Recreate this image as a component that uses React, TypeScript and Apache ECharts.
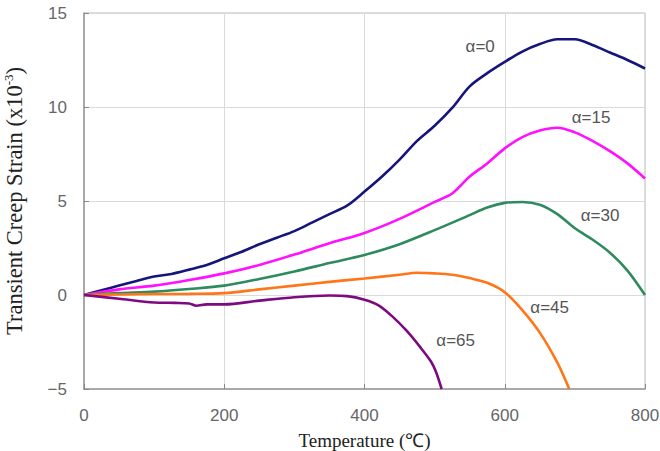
import React, { useEffect, useRef } from "react";
import * as echarts from "echarts";

// Temperature (°C) / transient creep strain (x10^-3) pairs for each load ratio α
const alpha0: [number, number][] = [
  [0, 0], [25, 0.25], [50, 0.5], [75, 0.75], [100, 0.98], [125, 1.12], [150, 1.35],
  [175, 1.6], [200, 1.95], [225, 2.3], [250, 2.7], [275, 3.05], [300, 3.4], [325, 3.85],
  [350, 4.3], [375, 4.75], [400, 5.5], [425, 6.3], [450, 7.2], [475, 8.2], [500, 9.0],
  [525, 9.95], [550, 11.1], [575, 11.8], [600, 12.4], [625, 12.95], [650, 13.35],
  [675, 13.6], [700, 13.6], [725, 13.3], [750, 12.9], [775, 12.5], [800, 12.05],
];
const alpha15: [number, number][] = [
  [0, 0], [50, 0.3], [100, 0.5], [150, 0.8], [200, 1.15], [250, 1.6], [300, 2.15],
  [350, 2.75], [400, 3.3], [450, 4.05], [500, 4.95], [525, 5.4], [550, 6.3], [575, 7.0],
  [600, 7.8], [625, 8.4], [650, 8.75], [675, 8.9], [700, 8.65], [725, 8.2], [750, 7.65],
  [775, 7.0], [800, 6.2],
];
const alpha30: [number, number][] = [
  [0, 0], [50, 0.1], [100, 0.18], [150, 0.32], [200, 0.5], [250, 0.85], [300, 1.25],
  [350, 1.7], [400, 2.13], [450, 2.7], [500, 3.45], [550, 4.25], [575, 4.65], [600, 4.9],
  [625, 4.95], [650, 4.8], [675, 4.3], [700, 3.55], [725, 2.95], [750, 2.25], [775, 1.3],
  [800, 0],
];
const alpha45: [number, number][] = [
  [0, 0], [50, 0.03], [100, 0.05], [150, 0.06], [200, 0.1], [250, 0.3], [300, 0.5],
  [350, 0.7], [400, 0.88], [450, 1.08], [475, 1.18], [500, 1.15], [525, 1.08], [550, 0.9],
  [575, 0.65], [600, 0.15], [625, -0.8], [650, -2.0], [675, -3.6], [692, -5.0],
];
const alpha65: [number, number][] = [
  [0, 0], [50, -0.2], [100, -0.4], [130, -0.42], [150, -0.45], [160, -0.57], [175, -0.5],
  [200, -0.5], [250, -0.3], [300, -0.12], [350, -0.03], [375, -0.06], [400, -0.25],
  [420, -0.55], [440, -1.15], [460, -1.9], [480, -2.8], [495, -3.55], [502, -4.1],
  [510, -5.0],
];

const seriesNames = ["α=0", "α=15", "α=30", "α=45", "α=65"];
const seriesData = [alpha0, alpha15, alpha30, alpha45, alpha65];
// Where each curve's α label sits, in (temperature, strain) units
const labelAnchors: [number, number][] = [
  [565, 13.2], [723, 9.45], [736, 4.25], [664, -0.64], [530, -2.4],
];
const colors = ["#15157c", "#ff10ff", "#2e8b5f", "#ff7518", "#7d0a80"];

const xTicks = { min: 0, max: 800, interval: 200 };
const yTicks = { min: -5, max: 15, interval: 5 };

export default function App() {
  const ref = useRef<HTMLDivElement>(null);

  useEffect(() => {
    if (!ref.current) return;
    const chart = echarts.init(ref.current, undefined, { renderer: "svg" });

    const series = seriesData.map((data, i) => ({
      name: seriesNames[i],
      type: "line",
      data,
      showSymbol: false,
      smooth: 0.3,
      clip: true,
      lineStyle: { color: colors[i], width: 2.6 },
      itemStyle: { color: colors[i] },
      markPoint: {
        symbol: "circle",
        symbolSize: 0,
        silent: true,
        label: {
          show: true,
          position: "inside",
          formatter: seriesNames[i],
          color: "#555",
          fontFamily: "Liberation Sans, Arial, sans-serif",
          fontSize: 17,
        },
        data: [{ coord: labelAnchors[i], value: seriesNames[i] }],
      },
    }));

    chart.setOption({
      animation: false,
      backgroundColor: "#ffffff",
      grid: {
        left: 84,
        right: 15,
        top: 13,
        bottom: 62,
        containLabel: false,
        outerBoundsMode: "none",
        show: true,
        borderColor: "#b8b8b8",
        borderWidth: 1,
      },
      xAxis: {
        type: "value",
        ...xTicks,
        name: "Temperature (℃)",
        nameLocation: "middle",
        nameGap: 42,
        nameTextStyle: {
          fontFamily: "Liberation Serif, Times New Roman, serif",
          fontSize: 19,
          color: "#222",
        },
        axisLine: { onZero: false, lineStyle: { color: "#999", width: 1.5 } },
        axisTick: { show: true, inside: true, length: 5, lineStyle: { color: "#888" } },
        axisLabel: {
          margin: 18,
          color: "#666",
          fontFamily: "Liberation Sans, Arial, sans-serif",
          fontSize: 17,
        },
        splitLine: { show: true, lineStyle: { color: "#dadada", width: 1 } },
      },
      yAxis: {
        type: "value",
        ...yTicks,
        name: "Transient Creep Strain (x10{sup|-3})",
        nameLocation: "middle",
        nameGap: 58,
        nameRotate: 90,
        nameTextStyle: {
          fontFamily: "Liberation Serif, Times New Roman, serif",
          fontSize: 22.5,
          color: "#222",
          rich: {
            sup: {
              fontFamily: "Liberation Serif, Times New Roman, serif",
              fontSize: 13,
              color: "#222",
              padding: [0, 0, 11, 0],
            },
          },
        },
        axisLine: { onZero: false, lineStyle: { color: "#999", width: 1.5 } },
        axisTick: { show: true, inside: true, length: 5, lineStyle: { color: "#888" } },
        axisLabel: {
          margin: 17,
          color: "#666",
          fontFamily: "Liberation Sans, Arial, sans-serif",
          fontSize: 17,
          formatter: (v: number) => (v < 0 ? "\u2212" + Math.abs(v) : String(v)),
        },
        splitLine: { show: true, lineStyle: { color: "#dadada", width: 1 } },
      },
      series,
    });

    return () => chart.dispose();
  }, []);

  return (
    <div
      ref={ref}
      style={{ position: "absolute", left: 0, top: 0, width: 660, height: 451 }}
    />
  );
}
